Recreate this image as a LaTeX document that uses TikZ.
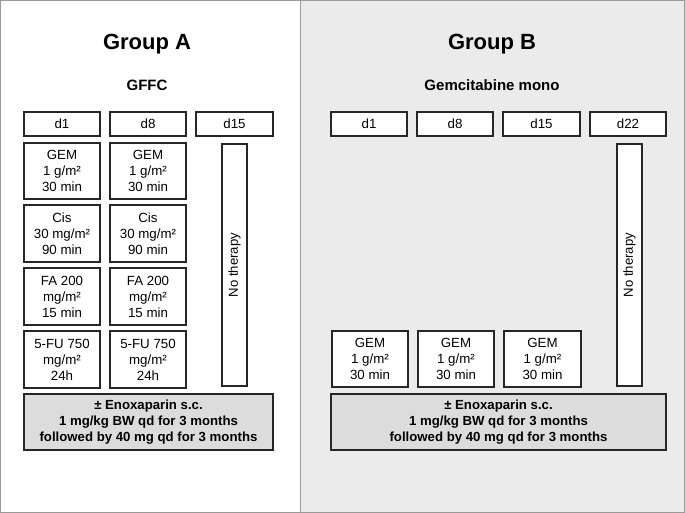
\documentclass[tikz,border=0pt]{standalone}
\usepackage{fontspec}
\setmainfont{Liberation Sans}
\definecolor{panelB}{HTML}{EBEBEB}
\definecolor{enofill}{HTML}{DCDCDC}
\definecolor{frame}{HTML}{9A9A9A}
\definecolor{edge}{HTML}{262626}
\begin{document}
\begin{tikzpicture}[x=1pt,y={(0,-1pt)},
  box/.style={draw=edge, line width=1.1pt, fill=white, align=center, inner sep=0pt,
    font=\fontsize{13.3}{16}\selectfont, minimum width=76pt},
  daybox/.style={box, minimum height=24pt},
  drugbox/.style={box, minimum height=56pt},
  nobox/.style={box, minimum width=25pt, minimum height=242pt},
  enobox/.style={draw=edge, line width=1.1pt, fill=enofill, align=center, inner sep=0pt,
    font=\bfseries\fontsize{13.2}{16}\selectfont, minimum height=56pt},
  title/.style={font=\bfseries\fontsize{22}{26}\selectfont, inner sep=0pt},
  subtitle/.style={font=\bfseries\fontsize{15}{18}\selectfont, inner sep=0pt}]
% panels
\path[use as bounding box] (0,0) rectangle (685,513);
\fill[white] (0,0) rectangle (300,513);
\fill[panelB] (300,0) rectangle (685,513);
\draw[frame, line width=1pt] (0.5,0.5) rectangle (684.5,512.5);
\draw[frame, line width=1pt] (300,0) -- (300,513);
% titles
\node[title] (tA) at (147,44) {Group A};
\node[subtitle] (sA) at (147,85) {GFFC};
\node[title] (tB) at (492,44) {Group B};
\node[subtitle] (sB) at (492,85) {Gemcitabine mono};
% Group A
\node[daybox] (dA1) at (62,124) {d1};
\node[daybox] (dA8) at (148,124) {d8};
\node[daybox, minimum width=77pt] (dA15) at (234.5,124) {d15};
\node[drugbox] (gemA1) at (62,171) {GEM\\1 g/m²\\30 min};
\node[drugbox] (gemA2) at (148,171) {GEM\\1 g/m²\\30 min};
\node[drugbox, minimum height=57pt] (cisA1) at (62,233.5) {Cis\\30 mg/m²\\90 min};
\node[drugbox, minimum height=57pt] (cisA2) at (148,233.5) {Cis\\30 mg/m²\\90 min};
\node[drugbox, minimum height=57pt] (faA1) at (62,296.5) {FA 200\\mg/m²\\15 min};
\node[drugbox, minimum height=57pt] (faA2) at (148,296.5) {FA 200\\mg/m²\\15 min};
\node[drugbox, minimum height=57pt] (fuA1) at (62,359.5) {5-FU 750\\mg/m²\\24h};
\node[drugbox, minimum height=57pt] (fuA2) at (148,359.5) {5-FU 750\\mg/m²\\24h};
\node[nobox] (noA) at (234.5,265) {};
\node[rotate=90, font=\fontsize{13.1}{16}\selectfont, inner sep=0pt] (noAt) at (noA.center) {No therapy};
\node[enobox, minimum width=249pt] (enoA) at (148.5,422) {± Enoxaparin s.c.\\1 mg/kg BW qd for 3 months\\followed by 40 mg qd for 3 months};
% Group B
\node[daybox] (dB1) at (369,124) {d1};
\node[daybox] (dB8) at (455,124) {d8};
\node[daybox, minimum width=77pt] (dB15) at (541.5,124) {d15};
\node[daybox] (dB22) at (628,124) {d22};
\node[nobox] (noB) at (629.5,265) {};
\node[rotate=90, font=\fontsize{13.1}{16}\selectfont, inner sep=0pt] (noBt) at (noB.center) {No therapy};
\node[drugbox] (gemB1) at (370,359) {GEM\\1 g/m²\\30 min};
\node[drugbox] (gemB2) at (456,359) {GEM\\1 g/m²\\30 min};
\node[drugbox, minimum width=77pt] (gemB3) at (542.5,359) {GEM\\1 g/m²\\30 min};
\node[enobox, minimum width=335pt] (enoB) at (498.5,422) {± Enoxaparin s.c.\\1 mg/kg BW qd for 3 months\\followed by 40 mg qd for 3 months};
\end{tikzpicture}
\end{document}
